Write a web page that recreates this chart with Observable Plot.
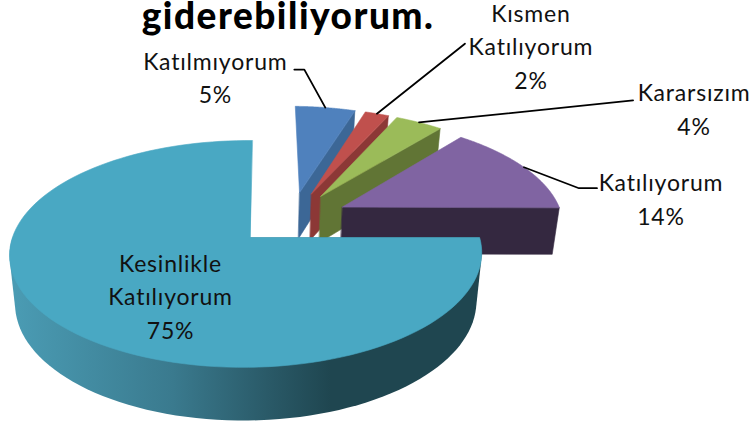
<!DOCTYPE html>
<html lang="tr">
<head>
<meta charset="utf-8">
<script src="https://cdn.jsdelivr.net/npm/d3@7"></script>
<script src="https://cdn.jsdelivr.net/npm/@observablehq/plot@0.6"></script>
<style>html,body{margin:0;padding:0;background:#fff}svg{display:block}</style>
</head>
<body>
<div id="chart"></div>
<script>
const categories = ["Katılmıyorum", "Kısmen Katılıyorum", "Kararsızım", "Katılıyorum", "Kesinlikle Katılıyorum"];
const values = [5, 2, 4, 14, 75];
const topColors = ["#4f81bd", "#c0504d", "#9bbb59", "#8064a2", "#49a8c3"];
const wallColors = ["#3c6796", "#8c3836", "#617535", "#342840", "url(#bigWall)"];
const titleText = "giderebiliyorum.";

// label and leader layout, relative to each slice's rim midpoint
const labelShift = [[-110, -32], [154, -69], [275, -15], [137, 30], [-80, 57]];
const leaderBends = [[[-21, -38], [-31, -38]], [[88, -70]], [[214, -22]], [[55, 21], [73, 21]], []];

// 3D pie view: a projective map of the pie's plane, explosion e, wall height
const view = {ox: 250, oy: 237, a: 233.5, c: 2, b: 111, k: 0.145, m: 0.0191, e: 0.255};
const rad = Math.PI / 180;
const project = (wx, wy) => {
  const D = 1 + view.k * wy + view.m * wx;
  return [view.ox + (view.a * wx + view.c * wy) / D, view.oy - view.b * wy / D];
};
const lower = ([x, y]) => [view.ox + (x - view.ox) * 0.977, view.oy + (y - view.oy) * 1.04 + 48];

const total = d3.sum(values);
let acc = 0;
const slices = values.map((v, i) => {
  const t0 = acc / total * 360; acc += v; const t1 = acc / total * 360;
  return {i, t0, t1, mid: (t0 + t1) / 2};
});
const biggest = slices[slices.length - 1];
const dir = t => [Math.sin(t * rad), Math.cos(t * rad)];
slices.forEach(s => {
  const [dx, dy] = dir(s.mid), [bx, by] = dir(biggest.mid);
  s.off = [view.e * (dx - bx), view.e * (dy - by)];
  s.at = (t, r = 1) => { const [sx, sy] = dir(t); return project(s.off[0] + r * sx, s.off[1] + r * sy); };
  s.arc = d3.range(0, 121).map(j => s.at(s.t0 + (s.t1 - s.t0) * j / 120));
  s.apex = s.at(s.t0, 0);
  s.rim = s.at(s.mid);
});

const face = (pts, fill) => Plot.line(pts, {
  x: d => d[0], y: d => d[1], curve: "linear-closed", fill, stroke: fill, strokeWidth: 0.6
});

const marks = [];
// gradient for the curved wall of the largest slice
marks.push(() => {
  const ns = "http://www.w3.org/2000/svg";
  const defs = document.createElementNS(ns, "defs");
  const g = document.createElementNS(ns, "linearGradient");
  g.setAttribute("id", "bigWall");
  g.setAttribute("gradientUnits", "userSpaceOnUse");
  g.setAttribute("x1", 15); g.setAttribute("x2", 330); g.setAttribute("y1", 0); g.setAttribute("y2", 0);
  [[0, "#4a9bb3"], [0.5, "#3a7a8e"], [0.8, "#2a5a68"], [1, "#1f4650"]].forEach(([o, c]) => {
    const st = document.createElementNS(ns, "stop");
    st.setAttribute("offset", o); st.setAttribute("stop-color", c); g.appendChild(st);
  });
  defs.appendChild(g);
  return defs;
});

// painter's order, back to front
slices.forEach(s => {
  const i = s.i;
  if (s === biggest) {
    // silhouette of the front half of the curved wall, swept from rim to base
    const front = s.arc.filter((_, j) => s.t0 + (s.t1 - s.t0) * j / 120 <= 270);
    const hull = d3.polygonHull([...front, ...front.map(lower)]);
    marks.push(Plot.line(hull, {
      x: d => d[0], y: d => d[1], curve: "linear-closed", fill: wallColors[i]
    }));
  } else {
    const corner = s.at(s.t1);
    marks.push(face([s.apex, corner, lower(corner), lower(s.apex)], wallColors[i]));
  }
  marks.push(face([s.apex, ...s.arc], topColors[i]));
});

// leaders
slices.forEach(s => {
  const bends = leaderBends[s.i];
  if (!bends.length) return;
  const pts = [s.rim, ...bends.map(([dx, dy]) => [s.rim[0] + dx, s.rim[1] + dy])];
  marks.push(Plot.line(pts, {x: d => d[0], y: d => d[1], stroke: "#000", strokeWidth: 1.8}));
});

// labels
const labelFor = (name, v) => name.split(" ").join("\n") + "\n" + v + "%";
slices.forEach(s => {
  const [dx, dy] = labelShift[s.i];
  const anchor = s === biggest ? s.apex : s.rim;
  marks.push(Plot.text([labelFor(categories[s.i], values[s.i])], {
    x: () => anchor[0], y: () => anchor[1], text: d => d, dx, dy,
    fontFamily: "Lato", fontSize: 23, lineHeight: 1.45, fill: "#111", textAnchor: "middle", lineAnchor: "middle"
  }));
});

// cropped heading
marks.push(Plot.text([titleText], {
  frameAnchor: "top", text: d => d, dx: -88, dy: 2, lineAnchor: "top",
  fontFamily: "Lato", fontWeight: 900, fontSize: 37, fill: "#000"
}));

const chart = Plot.plot({
  width: 751, height: 423, margin: 0,
  x: {domain: [0, 751], axis: null},
  y: {domain: [423, 0], axis: null},
  style: {background: "#fff"},
  marks
});
chart.querySelectorAll("text").forEach(t => {
  t.style.letterSpacing = t.textContent === titleText ? "1.5px" : "0.8px";
});
document.getElementById("chart").append(chart);
</script>
</body>
</html>
